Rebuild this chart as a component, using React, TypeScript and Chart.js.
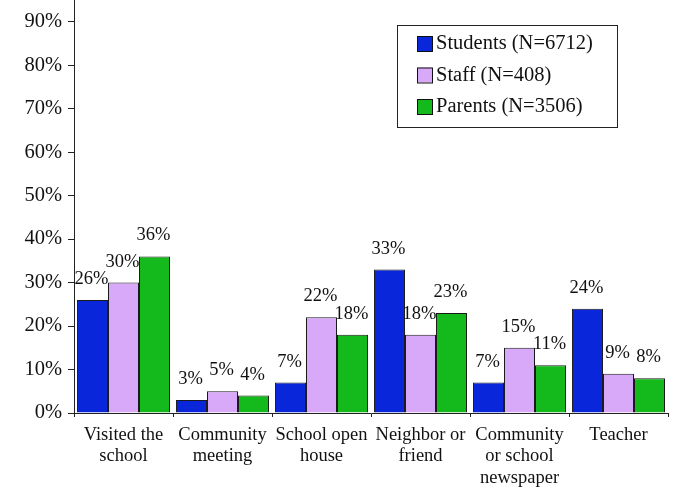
import React, { useEffect, useRef } from "react";
import { Chart, registerables } from "chart.js";

Chart.register(...registerables);

const categories: (string | string[])[] = [
  ["Visited the", "school"],
  ["Community", "meeting"],
  ["School open", "house"],
  ["Neighbor or", "friend"],
  ["Community", "or school", "newspaper"],
  "Teacher",
];
const seriesNames = ["Students (N=6712)", "Staff (N=408)", "Parents (N=3506)"];
const students = [26, 3, 7, 33, 7, 24];
const staff = [30, 5, 22, 18, 15, 9];
const parents = [36, 4, 18, 23, 11, 8];
const colors = ["#0A26DA", "#D8A9F8", "#14B91B"];
const yTicks = [0, 10, 20, 30, 40, 50, 60, 70, 80, 90];

const FONT = "'Liberation Serif', 'DejaVu Serif', serif";

const labelPlugin = {
  id: "valueLabels",
  afterDatasetsDraw(chart: any) {
    const ctx = chart.ctx;
    ctx.save();
    ctx.font = `18.5px ${FONT}`;
    ctx.fillStyle = "#111";
    ctx.textAlign = "center";
    ctx.textBaseline = "alphabetic";
    chart.data.datasets.forEach((ds: any, i: number) => {
      const meta = chart.getDatasetMeta(i);
      meta.data.forEach((bar: any, j: number) => {
        ctx.fillText(ds.data[j] + "%", bar.x - 1, bar.y - 16);
      });
    });
    ctx.restore();
  },
};

const legendPlugin = {
  id: "boxLegend",
  afterDraw(chart: any) {
    const ctx = chart.ctx;
    ctx.save();
    const x = 397, y = 25, w = 220, h = 102;
    ctx.strokeStyle = "#222";
    ctx.lineWidth = 1;
    ctx.fillStyle = "#fff";
    ctx.fillRect(x, y, w, h);
    ctx.strokeRect(x + 0.5, y + 0.5, w, h);
    ctx.font = `20.5px ${FONT}`;
    ctx.textBaseline = "middle";
    ctx.textAlign = "left";
    chart.data.datasets.forEach((ds: any, i: number) => {
      const cy = y + 18 + i * 31.5;
      ctx.fillStyle = ds.backgroundColor;
      ctx.fillRect(x + 20, cy - 7, 15, 15);
      ctx.strokeStyle = "#111";
      ctx.strokeRect(x + 20.5, cy - 6.5, 15, 15);
      ctx.fillStyle = "#111";
      ctx.fillText(ds.label, x + 39, cy + 1);
    });
    ctx.restore();
  },
};

export default function App() {
  const ref = useRef<HTMLCanvasElement>(null);
  useEffect(() => {
    if (!ref.current) return;
    const mk = (label: string, data: number[], color: string) => ({
      label,
      data,
      backgroundColor: color,
      borderColor: "#1a1a1a",
      borderWidth: 1,
      categoryPercentage: 0.94,
      barPercentage: 1,
    });
    const chart = new Chart(ref.current, {
      type: "bar",
      data: {
        labels: categories,
        datasets: [
          mk(seriesNames[0], students, colors[0]),
          mk(seriesNames[1], staff, colors[1]),
          mk(seriesNames[2], parents, colors[2]),
        ],
      },
      plugins: [labelPlugin, legendPlugin],
      options: {
        animation: false,
        responsive: false,
        maintainAspectRatio: false,
        layout: { padding: { top: 0, right: 7, left: 0, bottom: 0 } },
        plugins: {
          legend: { display: false },
          tooltip: { enabled: false },
        },
        scales: {
          x: {
            grid: {
              drawOnChartArea: false,
              drawTicks: true,
              tickLength: 4,
              color: "#222",
              offset: true,
            },
            border: { color: "#222", width: 1 },
            ticks: {
              color: "#111",
              font: { family: FONT, size: 18.5, lineHeight: 1.14 },
              maxRotation: 0,
              autoSkip: false,
              padding: 8,
            },
            afterFit(scale: any) {
              scale.height = 75;
              scale.paddingLeft = 0;
              scale.paddingRight = 0;
            },
          },
          y: {
            min: 0,
            max: 95,
            afterBuildTicks(scale: any) {
              scale.ticks = yTicks.map((v) => ({ value: v }));
            },
            grid: {
              drawOnChartArea: false,
              drawTicks: true,
              tickLength: 6,
              color: "#222",
            },
            border: { color: "#222", width: 1 },
            ticks: {
              color: "#111",
              font: { family: FONT, size: 20.5 },
              padding: 6,
              callback: (v: any) => v + "%",
            },
            afterFit(scale: any) {
              scale.width = 74;
              scale.paddingTop = 0;
              scale.paddingBottom = 0;
            },
          },
        },
      },
    });
    return () => chart.destroy();
  }, []);
  return (
    <div style={{ position: "absolute", left: 0, top: 0, width: 675, height: 488, background: "#fff" }}>
      <canvas ref={ref} width={675} height={488} style={{ width: 675, height: 488 }} />
    </div>
  );
}
